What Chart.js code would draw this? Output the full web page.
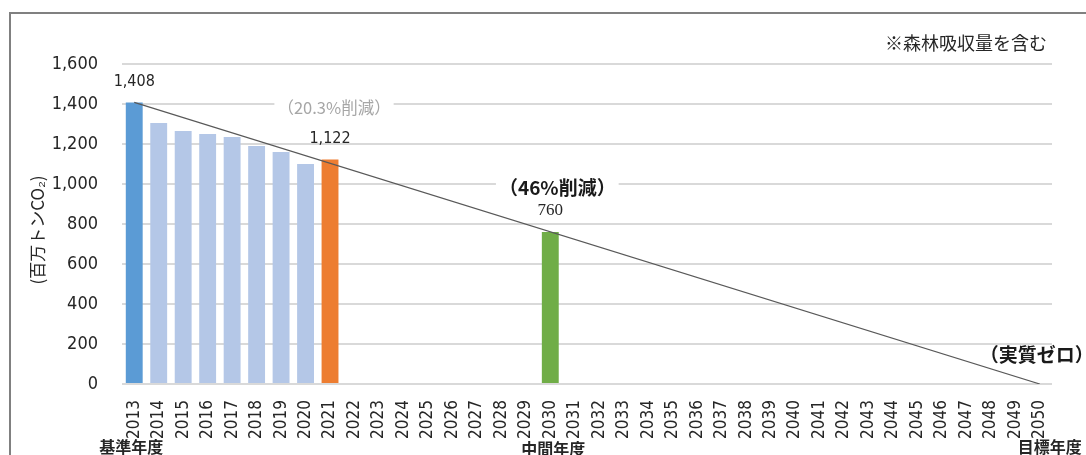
<!DOCTYPE html>
<html lang="ja">
<head>
<meta charset="utf-8">
<script src="https://cdn.jsdelivr.net/npm/chart.js@4.4.1/dist/chart.umd.min.js"></script>
<style>
  html, body { margin: 0; padding: 0; background: #fff; }
  #wrap { width: 1086px; height: 455px; position: relative; }
</style>
</head>
<body>
<div id="wrap"><canvas id="chart"></canvas></div>
<script>
// 年度
const years = [
  "2013", "2014", "2015", "2016", "2017", "2018", "2019", "2020", "2021", "2022",
  "2023", "2024", "2025", "2026", "2027", "2028", "2029", "2030", "2031", "2032",
  "2033", "2034", "2035", "2036", "2037", "2038", "2039", "2040", "2041", "2042",
  "2043", "2044", "2045", "2046", "2047", "2048", "2049", "2050"
];
// 温室効果ガス排出量（百万トンCO2、森林吸収量を含む）
const emissions = [
  1408, 1305, 1265, 1250, 1235, 1190, 1160, 1100, 1122, null,
  null, null, null, null, null, null, null, 760, null, null,
  null, null, null, null, null, null, null, null, null, null,
  null, null, null, null, null, null, null, null
];
// 基準年度から実質ゼロまでの直線
const pathwayStart = 1408;
const pathwayEnd = 0;
const pathway = years.map((y, i) =>
  i === 0 ? pathwayStart : (i === years.length - 1 ? pathwayEnd : null));

const yMin = 0, yMax = 1600, yStep = 200;

const narrow = '"Liberation Sans Narrow", "DejaVu Sans Condensed", sans-serif';
const jp = '"Noto Sans CJK JP", sans-serif';

function barColor(year) {
  if (year === "2013") return "#5b9bd5";
  if (year === "2021") return "#ed7d31";
  if (year === "2030") return "#70ad47";
  return "#b4c7e7";
}

function withComma(v) {
  return v.toLocaleString("en-US");
}

function boxedText(ctx, text, x, y, font, color) {
  ctx.font = font;
  const w = ctx.measureText(text).width;
  ctx.fillStyle = "#fff";
  ctx.fillRect(x - w / 2 - 3, y - 11, w + 6, 22);
  ctx.fillStyle = color;
  ctx.fillText(text, x, y);
}

const annotations = {
  id: "annotations",
  afterDraw(chart) {
    const ctx = chart.ctx;
    const x = chart.scales.x;
    const y = chart.scales.y;
    ctx.save();

    // 外枠
    ctx.strokeStyle = "#808080";
    ctx.lineWidth = 2;
    ctx.beginPath();
    ctx.moveTo(10, 455);
    ctx.lineTo(10, 13);
    ctx.lineTo(1086, 13);
    ctx.stroke();

    ctx.textAlign = "center";
    ctx.textBaseline = "middle";

    // 値ラベル
    const valueFonts = { 0: "16px " + narrow, 8: "16px " + narrow, 17: '17px "Liberation Serif", serif' };
    Object.keys(valueFonts).forEach(k => {
      const i = Number(k);
      const v = emissions[i];
      ctx.font = valueFonts[k];
      ctx.fillStyle = "#262626";
      ctx.fillText(withComma(v), x.getPixelForValue(i), y.getPixelForValue(v) - 21);
    });

    // 削減率
    boxedText(ctx, "（20.3%削減）", x.getPixelForValue(8) + 4, y.getPixelForValue(1380),
      "16.5px " + jp, "#a6a6a6");
    boxedText(ctx, "（46%削減）", x.getPixelForValue(17) + 7, y.getPixelForValue(980),
      "bold 19px " + jp, "#1a1a1a");
    ctx.font = "bold 19px " + jp;
    ctx.fillStyle = "#1a1a1a";
    ctx.fillText("（実質ゼロ）", x.getPixelForValue(37) - 3, y.getPixelForValue(145));

    // 注記
    ctx.font = "18px " + jp;
    ctx.fillStyle = "#262626";
    ctx.textAlign = "right";
    ctx.fillText("※森林吸収量を含む", 1047, 43);

    // 年度区分
    ctx.textAlign = "center";
    ctx.font = "bold 16px " + jp;
    ctx.fillStyle = "#262626";
    ctx.fillText("基準年度", x.getPixelForValue(0) - 3, 447);
    ctx.fillText("中間年度", x.getPixelForValue(17) + 3, 449);
    ctx.fillText("目標年度", x.getPixelForValue(37) + 10, 447);

    // 縦軸タイトル
    ctx.translate(38, 230);
    ctx.rotate(-Math.PI / 2);
    ctx.font = "17px " + jp;
    ctx.fillStyle = "#262626";
    ctx.fillText("(百万トンCO₂)", 0, 0);

    ctx.restore();
  }
};

new Chart(document.getElementById("chart"), {
  type: "bar",
  data: {
    labels: years,
    datasets: [{
      type: "line",
      data: pathway,
      borderColor: "#595959",
      borderWidth: 1.2,
      pointRadius: 0,
      spanGaps: true,
      order: 0
    }, {
      type: "bar",
      data: emissions,
      backgroundColor: years.map(barColor),
      barPercentage: 0.69,
      categoryPercentage: 1,
      order: 1
    }]
  },
  options: {
    responsive: true,
    maintainAspectRatio: false,
    animation: false,
    layout: { padding: { left: 0, top: 64, right: 34, bottom: 0 } },
    plugins: {
      legend: { display: false },
      tooltip: { enabled: false }
    },
    scales: {
      x: {
        grid: { display: false },
        border: { display: false },
        ticks: {
          autoSkip: false,
          minRotation: 90,
          maxRotation: 90,
          padding: 8,
          color: "#262626",
          font: { family: narrow, size: 17 }
        },
        afterFit(scale) { scale.height = 71; }
      },
      y: {
        min: yMin,
        max: yMax,
        grid: { color: "#d9d9d9", lineWidth: 2, drawTicks: false },
        border: { display: false },
        ticks: {
          stepSize: yStep,
          padding: 24,
          color: "#262626",
          font: { family: narrow, size: 18 },
          callback: v => withComma(v)
        },
        afterFit(scale) { scale.width = 122; }
      }
    }
  },
  plugins: [annotations]
});
</script>
</body>
</html>
